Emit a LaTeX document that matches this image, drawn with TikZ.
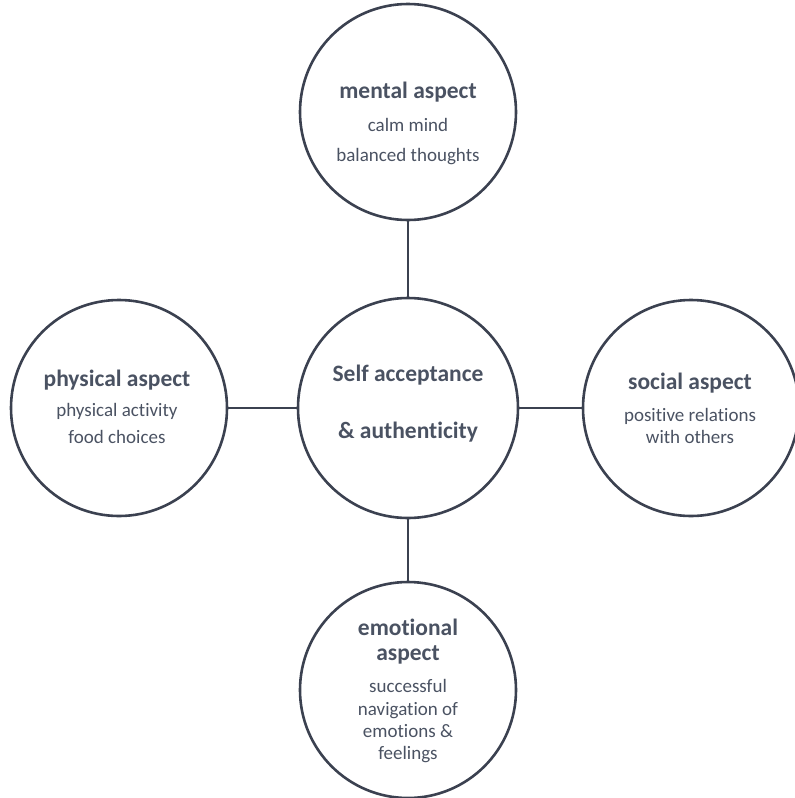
\documentclass[tikz,border=0pt]{standalone}
\usepackage{fontspec}
\setmainfont{Carlito}[Ligatures=NoCommon]
\definecolor{ink}{HTML}{3B4150}
\definecolor{txt}{HTML}{4A5262}
\begin{document}
\begin{tikzpicture}[x=1pt,y=-1pt,
  ring/.style={draw=ink, line width=2.6pt, circle, minimum size=216pt, inner sep=0pt},
  hub/.style={ring, minimum size=220pt},
  link/.style={draw=ink, line width=1.8pt},
  head/.style={text=txt, font=\bfseries\fontsize{23.5}{26}\selectfont, anchor=base, inner sep=0pt},
  body/.style={text=txt, font=\fontsize{19}{22}\selectfont, anchor=base, inner sep=0pt}]
\useasboundingbox (0,0) rectangle (795,798);
\clip (0,0) rectangle (795,798);

% circles
\node[hub]  (core)   at (408,408) {};
\node[ring] (mental) at (408,112) {};
\node[ring] (phys)   at (119,408) {};
\node[ring] (social) at (691,408) {};
\node[ring] (emo)    at (408,690) {};

% spokes
\draw[link] (mental) -- (core);
\draw[link] (phys) -- (core);
\draw[link] (core) -- (social);
\draw[link] (core) -- (emo);

% centre
\node[head] (c1) at (408,381) {Self acceptance};
\node[head] (c2) at (408,438) {\& authenticity};

% mental
\node[head] (m1) at (408,98) {mental aspect};
\node[body] (m2) at (408,131) {calm mind};
\node[body] (m3) at (408,161) {balanced thoughts};

% physical
\node[head] (p1) at (117,386) {physical aspect};
\node[body] (p2) at (117,416) {physical activity};
\node[body] (p3) at (117,443) {food choices};

% social
\node[head] (s1) at (690,389) {social aspect};
\node[body] (s2) at (690,421) {positive relations};
\node[body] (s3) at (690,443) {with others};

% emotional
\node[head] (e1) at (408,635) {emotional};
\node[head] (e2) at (408,660) {aspect};
\node[body] (e3) at (408,692) {successful};
\node[body] (e4) at (408,715) {navigation of};
\node[body] (e5) at (408,737) {emotions \&};
\node[body] (e6) at (408,759) {feelings};
\end{tikzpicture}
\end{document}
